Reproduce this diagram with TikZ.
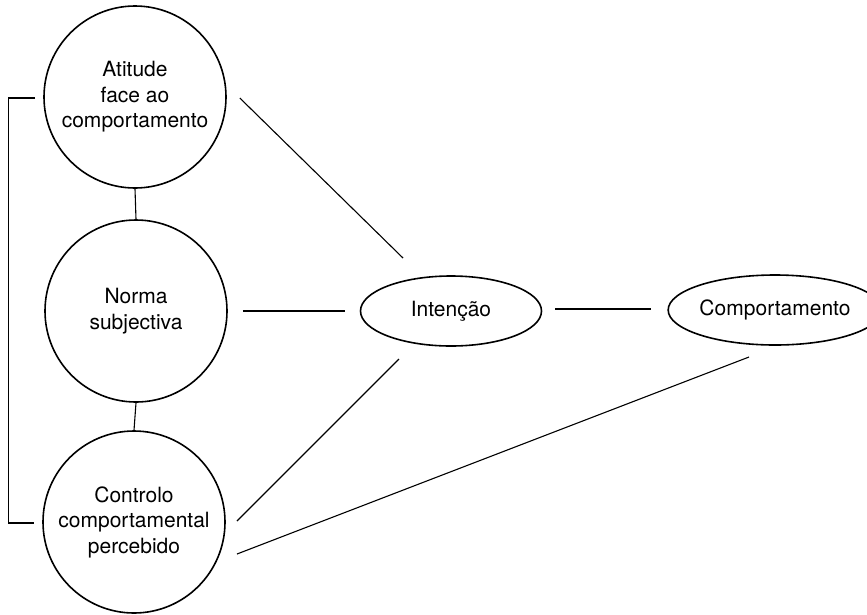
\documentclass[tikz,border=0pt]{standalone}
\usepackage{fontspec}
\setmainfont{TeX Gyre Heros}
\usetikzlibrary{shapes.geometric,calc}
\begin{document}
\begin{tikzpicture}[x=1pt,y=-1pt,
  circ/.style={circle,draw,line width=1.6pt,minimum size=182pt,inner sep=0pt,align=center,
    font=\fontsize{21}{25.5}\selectfont},
  ell/.style={ellipse,draw,line width=1.6pt,minimum width=181pt,minimum height=70pt,inner sep=0pt,
    font=\fontsize{21}{25.5}\selectfont},
  conn/.style={line width=1.1pt}]
\useasboundingbox (0,0) rectangle (867,614);
\node[circ] (att) at (135,97) {Atitude\\face ao\\comportamento};
\node[circ] (nor) at (136,311) {Norma\\subjectiva};
\node[circ] (ctl) at (134,522) {Controlo\\comportamental\\percebido};
\node[ell] (int) at (451,311) {Intenção};
\node[ell] (comp) at (775,310) {Comportamento};
% vertical links
\draw[conn] (att.south) -- (nor.north);
\draw[conn] (nor.south) -- (ctl.north);
% bracket
\draw[conn] ($(att.west)+(-8,1)$) -- ($(att.west)+(-35,1)$) |- ($(ctl.west)+(-8,1)$);
% connectors
\draw[conn] ($(att.east)+(13,1)$) -- ($(int.center)+(-48,-53)$);
\draw[conn] ($(nor.east)+(15,0)$) -- ($(int.west)+(-15,0)$);
\draw[conn] ($(ctl.center)+(103,-1)$) -- ($(int.center)+(-52,48)$);
\draw[conn] ($(int.east)+(13,-2)$) -- ($(comp.west)+(-16,-1)$);
\draw[conn] ($(ctl.center)+(103,32)$) -- ($(comp.center)+(-26,47)$);
\end{tikzpicture}
\end{document}
